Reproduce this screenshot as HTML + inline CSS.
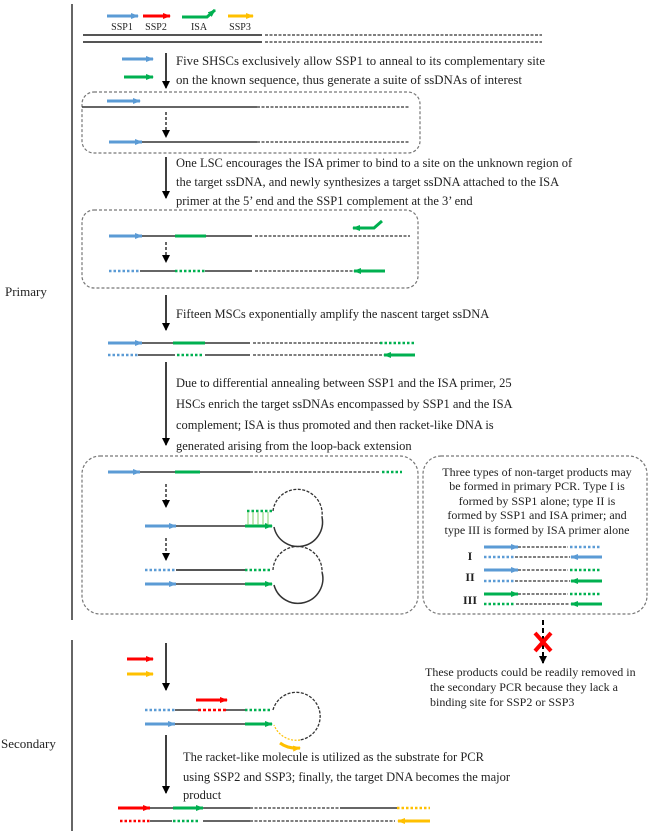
<!DOCTYPE html>
<html><head><meta charset="utf-8"><style>
html,body{margin:0;padding:0;background:#fff;}
svg{display:block;}
text{font-family:"Liberation Serif",serif;fill:#222;}
</style></head><body>
<svg width="650" height="831" viewBox="0 0 650 831" xmlns="http://www.w3.org/2000/svg">
<defs>
<marker id="mb" markerWidth="8" markerHeight="6" refX="7" refY="3" orient="auto" markerUnits="userSpaceOnUse"><path d="M0,0 L8,3 L0,6 z" fill="#5b9bd5"/></marker>
<marker id="mg" markerWidth="8" markerHeight="6" refX="7" refY="3" orient="auto" markerUnits="userSpaceOnUse"><path d="M0,0 L8,3 L0,6 z" fill="#00b050"/></marker>
<marker id="mr" markerWidth="8" markerHeight="6" refX="7" refY="3" orient="auto" markerUnits="userSpaceOnUse"><path d="M0,0 L8,3 L0,6 z" fill="#ff0000"/></marker>
<marker id="my" markerWidth="8" markerHeight="6" refX="7" refY="3" orient="auto" markerUnits="userSpaceOnUse"><path d="M0,0 L8,3 L0,6 z" fill="#ffc000"/></marker>
<marker id="mk" markerWidth="8" markerHeight="8" refX="7" refY="4" orient="auto" markerUnits="userSpaceOnUse"><path d="M0,0 L8,4 L0,8 z" fill="#000"/></marker>
</defs>
<g fill="none">
<!-- left bars -->
<line x1="72" y1="4" x2="72" y2="620" stroke="#666" stroke-width="2"/>
<line x1="72" y1="640" x2="72" y2="831" stroke="#666" stroke-width="2"/>

<!-- legend -->
<line x1="107" y1="16" x2="138" y2="16" stroke="#5b9bd5" stroke-width="3" marker-end="url(#mb)"/>
<line x1="143" y1="16" x2="170" y2="16" stroke="#ff0000" stroke-width="3" marker-end="url(#mr)"/>
<polyline points="182,17 207,17 215,10" stroke="#00b050" stroke-width="3" marker-end="url(#mg)"/>
<line x1="228" y1="16" x2="253" y2="16" stroke="#ffc000" stroke-width="3" marker-end="url(#my)"/>
<line x1="83" y1="35" x2="262" y2="35" stroke="#555" stroke-width="2"/>
<line x1="83" y1="42" x2="262" y2="42" stroke="#555" stroke-width="2"/>
<line x1="265" y1="35" x2="542" y2="35" stroke="#555" stroke-width="1.5" stroke-dasharray="3,1.5"/>
<line x1="265" y1="42" x2="542" y2="42" stroke="#555" stroke-width="1.5" stroke-dasharray="3,1.5"/>

<!-- step1 -->
<line x1="122" y1="59" x2="153" y2="59" stroke="#5b9bd5" stroke-width="3" marker-end="url(#mb)"/>
<line x1="124" y1="77" x2="153" y2="77" stroke="#00b050" stroke-width="3" marker-end="url(#mg)"/>
<line x1="166" y1="53" x2="166" y2="88" stroke="#000" stroke-width="1.5" marker-end="url(#mk)"/>

<!-- box1 -->
<rect x="82" y="92" width="338" height="61" rx="12" stroke="#777" stroke-width="1.2" stroke-dasharray="3,2"/>
<line x1="107" y1="101" x2="140" y2="101" stroke="#5b9bd5" stroke-width="3" marker-end="url(#mb)"/>
<line x1="82" y1="107" x2="257" y2="107" stroke="#333" stroke-width="1.5"/>
<line x1="257" y1="107" x2="410" y2="107" stroke="#333" stroke-width="1.2" stroke-dasharray="3,1.5"/>
<line x1="166" y1="112" x2="166" y2="137" stroke="#000" stroke-width="1.2" stroke-dasharray="3,2" marker-end="url(#mk)"/>
<line x1="109" y1="142" x2="142" y2="142" stroke="#5b9bd5" stroke-width="3" marker-end="url(#mb)"/>
<line x1="142" y1="142" x2="257" y2="142" stroke="#333" stroke-width="1.5"/>
<line x1="257" y1="142" x2="410" y2="142" stroke="#333" stroke-width="1.2" stroke-dasharray="3,1.5"/>

<line x1="166" y1="157" x2="166" y2="198" stroke="#000" stroke-width="1.5" marker-end="url(#mk)"/>

<!-- box2 -->
<rect x="82" y="210" width="336" height="78" rx="12" stroke="#777" stroke-width="1.2" stroke-dasharray="3,2"/>
<polyline points="382,221 374,228 353,228" stroke="#00b050" stroke-width="3" marker-end="url(#mg)"/>
<line x1="109" y1="236" x2="142" y2="236" stroke="#5b9bd5" stroke-width="3" marker-end="url(#mb)"/>
<line x1="142" y1="236" x2="252" y2="236" stroke="#333" stroke-width="1.5"/>
<line x1="175" y1="236" x2="206" y2="236" stroke="#00b050" stroke-width="3"/>
<line x1="255" y1="236" x2="410" y2="236" stroke="#333" stroke-width="1.2" stroke-dasharray="3,1.5"/>
<line x1="166" y1="242" x2="166" y2="262" stroke="#000" stroke-width="1.2" stroke-dasharray="3,2" marker-end="url(#mk)"/>
<line x1="109" y1="271" x2="140" y2="271" stroke="#5b9bd5" stroke-width="2.5" stroke-dasharray="2.5,2"/>
<line x1="140" y1="271" x2="252" y2="271" stroke="#333" stroke-width="1.5"/>
<line x1="175" y1="271" x2="205" y2="271" stroke="#fff" stroke-width="3"/>
<line x1="175" y1="271" x2="205" y2="271" stroke="#00b050" stroke-width="2.5" stroke-dasharray="2.5,2"/>
<line x1="255" y1="271" x2="353" y2="271" stroke="#333" stroke-width="1.2" stroke-dasharray="3,1.5"/>
<line x1="385" y1="271" x2="354" y2="271" stroke="#00b050" stroke-width="3" marker-end="url(#mg)"/>

<line x1="166" y1="295" x2="166" y2="330" stroke="#000" stroke-width="1.5" marker-end="url(#mk)"/>

<!-- ds after MSC -->
<line x1="108" y1="343" x2="142" y2="343" stroke="#5b9bd5" stroke-width="3" marker-end="url(#mb)"/>
<line x1="142" y1="343" x2="250" y2="343" stroke="#333" stroke-width="1.5"/>
<line x1="173" y1="343" x2="205" y2="343" stroke="#00b050" stroke-width="3"/>
<line x1="253" y1="343" x2="380" y2="343" stroke="#333" stroke-width="1.2" stroke-dasharray="3,1.5"/>
<line x1="380" y1="343" x2="415" y2="343" stroke="#00b050" stroke-width="2.5" stroke-dasharray="2.5,2"/>
<line x1="108" y1="355" x2="138" y2="355" stroke="#5b9bd5" stroke-width="2.5" stroke-dasharray="2.5,2"/>
<line x1="138" y1="355" x2="250" y2="355" stroke="#333" stroke-width="1.5"/>
<line x1="175" y1="355" x2="205" y2="355" stroke="#fff" stroke-width="3"/>
<line x1="177" y1="355" x2="203" y2="355" stroke="#00b050" stroke-width="2.5" stroke-dasharray="2.5,2"/>
<line x1="253" y1="355" x2="383" y2="355" stroke="#333" stroke-width="1.2" stroke-dasharray="3,1.5"/>
<line x1="415" y1="355" x2="384" y2="355" stroke="#00b050" stroke-width="3" marker-end="url(#mg)"/>

<line x1="166" y1="362" x2="166" y2="445" stroke="#000" stroke-width="1.5" marker-end="url(#mk)"/>

<!-- box3 -->
<rect x="82" y="456" width="336" height="158" rx="18" stroke="#777" stroke-width="1.2" stroke-dasharray="3,2"/>
<line x1="108" y1="472" x2="140" y2="472" stroke="#5b9bd5" stroke-width="3" marker-end="url(#mb)"/>
<line x1="140" y1="472" x2="250" y2="472" stroke="#333" stroke-width="1.5"/>
<line x1="175" y1="472" x2="200" y2="472" stroke="#00b050" stroke-width="3"/>
<line x1="250" y1="472" x2="380" y2="472" stroke="#333" stroke-width="1.2" stroke-dasharray="3,1.5"/>
<line x1="382" y1="472" x2="402" y2="472" stroke="#00b050" stroke-width="2.5" stroke-dasharray="2.5,2"/>
<line x1="166" y1="484" x2="166" y2="507" stroke="#000" stroke-width="1.2" stroke-dasharray="3,2" marker-end="url(#mk)"/>
<!-- racket 1 -->
<line x1="145" y1="526" x2="176" y2="526" stroke="#5b9bd5" stroke-width="3" marker-end="url(#mb)"/>
<line x1="176" y1="526" x2="245" y2="526" stroke="#333" stroke-width="1.5"/>
<line x1="245" y1="526" x2="272" y2="526" stroke="#00b050" stroke-width="3" marker-end="url(#mg)"/>
<line x1="247" y1="511" x2="272" y2="511" stroke="#00b050" stroke-width="2.5" stroke-dasharray="2.5,2"/>
<g stroke="#7fd06a" stroke-width="1"><line x1="248" y1="512" x2="248" y2="525"/><line x1="253" y1="512" x2="253" y2="525"/><line x1="258" y1="512" x2="258" y2="525"/><line x1="263" y1="512" x2="263" y2="525"/><line x1="268" y1="512" x2="268" y2="525"/></g>
<path d="M273,511 A24,24 0 1,1 322,517" stroke="#333" stroke-width="1.3" stroke-dasharray="3,1.5"/>
<path d="M322,517 A24,24 0 0,1 274,527" stroke="#333" stroke-width="1.5"/>
<line x1="166" y1="538" x2="166" y2="560" stroke="#000" stroke-width="1.2" stroke-dasharray="3,2" marker-end="url(#mk)"/>
<!-- racket 2 -->
<line x1="145" y1="570" x2="176" y2="570" stroke="#5b9bd5" stroke-width="2.5" stroke-dasharray="2.5,2"/>
<line x1="176" y1="570" x2="245" y2="570" stroke="#555" stroke-width="2"/>
<line x1="245" y1="570" x2="272" y2="570" stroke="#00b050" stroke-width="2.5" stroke-dasharray="2.5,2"/>
<line x1="145" y1="584" x2="176" y2="584" stroke="#5b9bd5" stroke-width="3" marker-end="url(#mb)"/>
<line x1="176" y1="584" x2="245" y2="584" stroke="#333" stroke-width="1.5"/>
<line x1="245" y1="584" x2="272" y2="584" stroke="#00b050" stroke-width="3" marker-end="url(#mg)"/>
<path d="M273,570 A24,24 0 1,1 322,572" stroke="#333" stroke-width="1.3" stroke-dasharray="3,1.5"/>
<path d="M322,572 A24,24 0 0,1 274,585" stroke="#333" stroke-width="1.5"/>

<!-- box4 -->
<rect x="423" y="456" width="224" height="158" rx="18" stroke="#777" stroke-width="1.2" stroke-dasharray="3,2"/>
<!-- I -->
<line x1="484" y1="547" x2="518" y2="547" stroke="#5b9bd5" stroke-width="3" marker-end="url(#mb)"/>
<line x1="518" y1="547" x2="568" y2="547" stroke="#333" stroke-width="1.2" stroke-dasharray="3,1.5"/>
<line x1="570" y1="547" x2="600" y2="547" stroke="#5b9bd5" stroke-width="2.5" stroke-dasharray="2.5,2"/>
<line x1="484" y1="557" x2="514" y2="557" stroke="#5b9bd5" stroke-width="2.5" stroke-dasharray="2.5,2"/>
<line x1="515" y1="557" x2="570" y2="557" stroke="#333" stroke-width="1.2" stroke-dasharray="3,1.5"/>
<line x1="602" y1="557" x2="571" y2="557" stroke="#5b9bd5" stroke-width="3" marker-end="url(#mb)"/>
<!-- II -->
<line x1="484" y1="570" x2="518" y2="570" stroke="#5b9bd5" stroke-width="3" marker-end="url(#mb)"/>
<line x1="518" y1="570" x2="568" y2="570" stroke="#333" stroke-width="1.2" stroke-dasharray="3,1.5"/>
<line x1="570" y1="570" x2="600" y2="570" stroke="#00b050" stroke-width="2.5" stroke-dasharray="2.5,2"/>
<line x1="484" y1="581" x2="514" y2="581" stroke="#5b9bd5" stroke-width="2.5" stroke-dasharray="2.5,2"/>
<line x1="515" y1="581" x2="570" y2="581" stroke="#333" stroke-width="1.2" stroke-dasharray="3,1.5"/>
<line x1="602" y1="581" x2="571" y2="581" stroke="#00b050" stroke-width="3" marker-end="url(#mg)"/>
<!-- III -->
<line x1="484" y1="594" x2="518" y2="594" stroke="#00b050" stroke-width="3" marker-end="url(#mg)"/>
<line x1="518" y1="594" x2="568" y2="594" stroke="#333" stroke-width="1.2" stroke-dasharray="3,1.5"/>
<line x1="570" y1="594" x2="600" y2="594" stroke="#00b050" stroke-width="2.5" stroke-dasharray="2.5,2"/>
<line x1="484" y1="604" x2="514" y2="604" stroke="#00b050" stroke-width="2.5" stroke-dasharray="2.5,2"/>
<line x1="516" y1="604" x2="570" y2="604" stroke="#333" stroke-width="1.2" stroke-dasharray="3,1.5"/>
<line x1="602" y1="604" x2="571" y2="604" stroke="#00b050" stroke-width="3" marker-end="url(#mg)"/>

<!-- X arrow -->
<line x1="543" y1="620" x2="543" y2="663" stroke="#000" stroke-width="2" stroke-dasharray="5,3" marker-end="url(#mk)"/>
<line x1="535" y1="633" x2="551" y2="651" stroke="#ff0000" stroke-width="4"/>
<line x1="551" y1="633" x2="535" y2="651" stroke="#ff0000" stroke-width="4"/>

<!-- secondary -->
<line x1="166" y1="643" x2="166" y2="690" stroke="#000" stroke-width="1.5" marker-end="url(#mk)"/>
<line x1="127" y1="659" x2="153" y2="659" stroke="#ff0000" stroke-width="3" marker-end="url(#mr)"/>
<line x1="127" y1="674" x2="153" y2="674" stroke="#ffc000" stroke-width="3" marker-end="url(#my)"/>
<line x1="196" y1="700" x2="227" y2="700" stroke="#ff0000" stroke-width="3" marker-end="url(#mr)"/>
<line x1="145" y1="710" x2="175" y2="710" stroke="#5b9bd5" stroke-width="2.5" stroke-dasharray="2.5,2"/>
<line x1="175" y1="710" x2="245" y2="710" stroke="#333" stroke-width="1.5"/>
<line x1="198" y1="710" x2="226" y2="710" stroke="#fff" stroke-width="3"/>
<line x1="198" y1="710" x2="226" y2="710" stroke="#ff0000" stroke-width="2.5" stroke-dasharray="3,2"/>
<line x1="245" y1="710" x2="272" y2="710" stroke="#00b050" stroke-width="2.5" stroke-dasharray="2.5,2"/>
<line x1="145" y1="724" x2="175" y2="724" stroke="#5b9bd5" stroke-width="3" marker-end="url(#mb)"/>
<line x1="175" y1="724" x2="245" y2="724" stroke="#333" stroke-width="1.5"/>
<line x1="245" y1="724" x2="272" y2="724" stroke="#00b050" stroke-width="3" marker-end="url(#mg)"/>
<path d="M273,710 A24,24 0 1,1 300,740" stroke="#333" stroke-width="1.3" stroke-dasharray="3,1.5"/>
<path d="M300,740 A24,24 0 0,1 274,725" stroke="#ffc000" stroke-width="1.2" stroke-dasharray="2,1.5"/>
<path d="M280,743 Q288,749 300,748" stroke="#ffc000" stroke-width="3" marker-end="url(#my)"/>

<line x1="166" y1="735" x2="166" y2="793" stroke="#000" stroke-width="1.5" marker-end="url(#mk)"/>

<!-- final product -->
<line x1="118" y1="808" x2="150" y2="808" stroke="#ff0000" stroke-width="3" marker-end="url(#mr)"/>
<line x1="150" y1="808" x2="250" y2="808" stroke="#333" stroke-width="1.5"/>
<line x1="173" y1="808" x2="203" y2="808" stroke="#00b050" stroke-width="3" marker-end="url(#mg)"/>
<line x1="250" y1="808" x2="340" y2="808" stroke="#333" stroke-width="1.2" stroke-dasharray="3,1.5"/>
<line x1="340" y1="808" x2="397" y2="808" stroke="#333" stroke-width="1.5"/>
<line x1="397" y1="808" x2="430" y2="808" stroke="#ffc000" stroke-width="2.5" stroke-dasharray="2.5,2"/>
<line x1="120" y1="821" x2="150" y2="821" stroke="#ff0000" stroke-width="2.5" stroke-dasharray="2.5,2"/>
<line x1="150" y1="821" x2="250" y2="821" stroke="#333" stroke-width="1.5"/>
<line x1="172" y1="821" x2="203" y2="821" stroke="#fff" stroke-width="3"/>
<line x1="173" y1="821" x2="200" y2="821" stroke="#00b050" stroke-width="2.5" stroke-dasharray="2.5,2"/>
<line x1="250" y1="821" x2="395" y2="821" stroke="#333" stroke-width="1.2" stroke-dasharray="3,1.5"/>
<line x1="430" y1="821" x2="398" y2="821" stroke="#ffc000" stroke-width="3" marker-end="url(#my)"/>
</g>

<!-- text -->
<g font-size="10">
<text x="122" y="30" text-anchor="middle">SSP1</text>
<text x="156" y="30" text-anchor="middle">SSP2</text>
<text x="199" y="30" text-anchor="middle">ISA</text>
<text x="240" y="30" text-anchor="middle">SSP3</text>
</g>
<text x="5" y="296" font-size="13">Primary</text>
<text x="1" y="748" font-size="13">Secondary</text>
<g font-size="12.5">
<text x="176" y="65" textLength="369" lengthAdjust="spacingAndGlyphs">Five SHSCs exclusively allow SSP1 to anneal to its complementary site</text>
<text x="176" y="84" textLength="346" lengthAdjust="spacingAndGlyphs">on the known sequence, thus generate a suite of ssDNAs of interest</text>
<text x="176" y="167">One LSC encourages the ISA primer to bind to a site on the unknown region of</text>
<text x="176" y="186">the target ssDNA, and newly synthesizes a target ssDNA attached to the ISA</text>
<text x="176" y="205">primer at the 5’ end and the SSP1 complement at the 3’ end</text>
<text x="176" y="318">Fifteen MSCs exponentially amplify the nascent target ssDNA</text>
<text x="176" y="387">Due to differential annealing between SSP1 and the ISA primer, 25</text>
<text x="176" y="408">HSCs enrich the target ssDNAs encompassed by SSP1 and the ISA</text>
<text x="176" y="429">complement; ISA is thus promoted and then racket-like DNA is</text>
<text x="176" y="450">generated arising from the loop-back extension</text>
<text x="183" y="761">The racket-like molecule is utilized as the substrate for PCR</text>
<text x="183" y="781">using SSP2 and SSP3; finally, the target DNA becomes the major</text>
<text x="183" y="799">product</text>
</g>
<g font-size="12" text-anchor="middle">
<text x="537" y="476">Three types of non-target products may</text>
<text x="537" y="490">be formed in primary PCR. Type I is</text>
<text x="537" y="505">formed by SSP1 alone; type II is</text>
<text x="537" y="519">formed by SSP1 and ISA primer; and</text>
<text x="537" y="534">type III is formed by ISA primer alone</text>
</g>
<g font-size="12" font-weight="bold" text-anchor="middle">
<text x="470" y="560">I</text>
<text x="470" y="581">II</text>
<text x="470" y="604">III</text>
</g>
<g font-size="12">
<text x="425" y="676">These products could be readily removed in</text>
<text x="430" y="691">the secondary PCR because they lack a</text>
<text x="430" y="706">binding site for SSP2 or SSP3</text>
</g>
</svg>
</body></html>
